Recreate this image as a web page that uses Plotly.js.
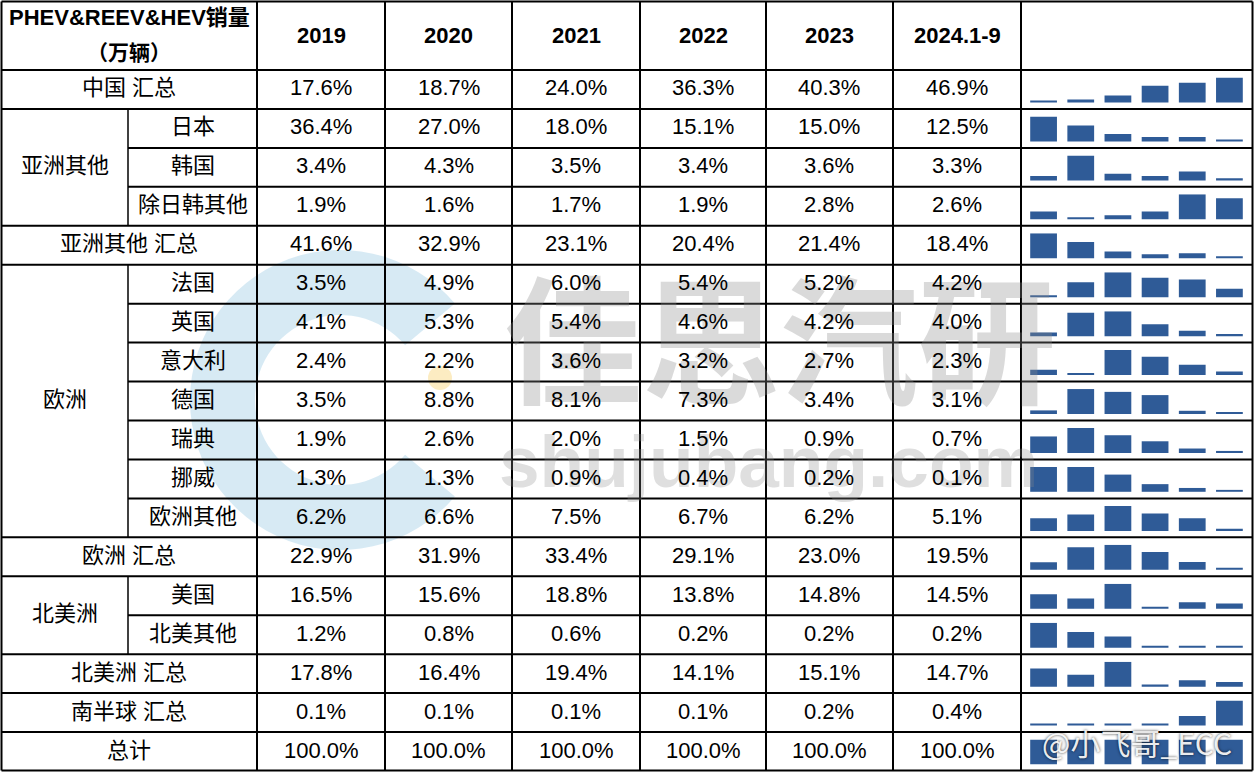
<!DOCTYPE html>
<html><head><meta charset="utf-8">
<script src="https://cdn.plot.ly/plotly-3.0.1.min.js"></script>
<style>html,body{margin:0;padding:0;background:#fff;}#chart{width:1256px;height:774px;}</style>
</head><body><div id="chart"></div>
<script>
// ---------------- data ----------------
const years = ['2019','2020','2021','2022','2023','2024.1-9'];
const rowNames = ['中国 汇总','日本','韩国','除日韩其他','亚洲其他 汇总','法国','英国','意大利','德国','瑞典','挪威','欧洲其他','欧洲 汇总','美国','北美其他','北美洲 汇总','南半球 汇总','总计'];
const share2019 = [17.6,36.4,3.4,1.9,41.6,3.5,4.1,2.4,3.5,1.9,1.3,6.2,22.9,16.5,1.2,17.8,0.1,100.0];
const share2020 = [18.7,27.0,4.3,1.6,32.9,4.9,5.3,2.2,8.8,2.6,1.3,6.6,31.9,15.6,0.8,16.4,0.1,100.0];
const share2021 = [24.0,18.0,3.5,1.7,23.1,6.0,5.4,3.6,8.1,2.0,0.9,7.5,33.4,18.8,0.6,19.4,0.1,100.0];
const share2022 = [36.3,15.1,3.4,1.9,20.4,5.4,4.6,3.2,7.3,1.5,0.4,6.7,29.1,13.8,0.2,14.1,0.1,100.0];
const share2023 = [40.3,15.0,3.6,2.8,21.4,5.2,4.2,2.7,3.4,0.9,0.2,6.2,23.0,14.8,0.2,15.1,0.2,100.0];
const share2024 = [46.9,12.5,3.3,2.6,18.4,4.2,4.0,2.3,3.1,0.7,0.1,5.1,19.5,14.5,0.2,14.7,0.4,100.0];
const groupNames = ['亚洲其他','欧洲','北美洲'];
const groupFirst = [1,5,13];
const groupLast = [3,11,14];
const headerTitle = 'PHEV&REEV&HEV销量';
const headerUnit = '（万辆）';
const watermarkCN = '佳思汽研';
const watermarkURL = 'shujubang.com';
const watermarkWeibo = '@小飞哥_ECC';

// ---------------- geometry ----------------
const W = 1256, H = 774;
const px = x => x / W;
const py = y => 1 - y / H;
const colX = [1.5,128,257,385,512,640,766,893,1021,1252.5];
const headTop = 1.5, headBot = 70, tableBot = 770.5;
const rowH = (771 - 70) / rowNames.length;
const rowTop = i => headBot + i * rowH;
const series = [share2019, share2020, share2021, share2022, share2023, share2024];

const FONT = 'Liberation Sans, Arial, "Noto Sans CJK SC", sans-serif';
const LINE = '#000';

const shapes = [];
const annotations = [];

function hline(y, x0, x1, w) {
  shapes.push({type:'line', xref:'paper', yref:'paper', x0:px(x0), x1:px(x1), y0:py(y), y1:py(y), line:{color:LINE, width:w||2}, layer:'above'});
}
function vline(x, y0, y1, w) {
  shapes.push({type:'line', xref:'paper', yref:'paper', x0:px(x), x1:px(x), y0:py(y0), y1:py(y1), line:{color:LINE, width:w||2}, layer:'above'});
}

// watermark: blue "C" ring and yellow dot
function ringPath(cx, cy, R, r, a0, a1) {
  const pts = [];
  const n = 60;
  for (let k = 0; k <= n; k++) {
    const a = (a0 + (a1 - a0) * k / n) * Math.PI / 180;
    pts.push([px(cx + R * Math.cos(a)), py(cy - R * Math.sin(a))]);
  }
  for (let k = n; k >= 0; k--) {
    const a = (a0 + (a1 - a0) * k / n) * Math.PI / 180;
    pts.push([px(cx + r * Math.cos(a)), py(cy - r * Math.sin(a))]);
  }
  return 'M' + pts.map(p => p[0].toFixed(5) + ',' + p[1].toFixed(5)).join('L') + 'Z';
}
shapes.push({type:'path', xref:'paper', yref:'paper', path: ringPath(340, 400, 150, 85, 40, 320),
  fillcolor:'rgba(110,180,215,0.28)', line:{width:0}, layer:'below'});
shapes.push({type:'circle', xref:'paper', yref:'paper', x0:px(428), x1:px(452), y0:py(366), y1:py(390),
  fillcolor:'rgba(245,200,80,0.35)', line:{width:0}, layer:'below'});

annotations.push({xref:'paper', yref:'paper', x:px(780), y:py(333), text:watermarkCN, showarrow:false,
  xanchor:'center', yanchor:'middle', font:{family:'"Noto Sans CJK SC", sans-serif', size:138, color:'rgba(140,140,140,0.32)', weight:700}});
annotations.push({xref:'paper', yref:'paper', x:px(768), y:py(462), text:watermarkURL, showarrow:false,
  xanchor:'center', yanchor:'middle', font:{family:'Liberation Sans, Arial, sans-serif', size:73, color:'rgba(140,140,140,0.28)', weight:700}});

// grid lines
hline(headTop, colX[0], colX[9]);
hline(tableBot, colX[0], colX[9]);
vline(colX[0], headTop, tableBot);
vline(colX[9], headTop, tableBot);
hline(headBot, colX[0], colX[9]);
for (let i = 1; i < rowNames.length; i++) {
  let inner = false;
  for (let g = 0; g < groupNames.length; g++) {
    if (i > groupFirst[g] && i <= groupLast[g]) inner = true;
  }
  hline(rowTop(i), inner ? colX[1] : colX[0], colX[9]);
}
for (let c = 2; c <= 8; c++) vline(colX[c], headTop, tableBot);
for (let g = 0; g < groupNames.length; g++) {
  vline(colX[1], rowTop(groupFirst[g]), rowTop(groupLast[g] + 1), 1.5);
}

// text helpers
function label(x, y, text, size, bold) {
  annotations.push({xref:'paper', yref:'paper', x:px(x), y:py(y), text:text, showarrow:false,
    xanchor:'center', yanchor:'middle',
    font:{family:FONT, size:size, color:'#000', weight: bold ? 700 : 400}});
}

// header
label((colX[0] + colX[2]) / 2, 17, headerTitle, 22, true);
label((colX[0] + colX[2]) / 2, 52, headerUnit, 21, true);
years.forEach((yr, c) => label((colX[c + 2] + colX[c + 3]) / 2, 35, yr, 22, true));

// row labels
const inGroup = rowNames.map(() => -1);
for (let g = 0; g < groupNames.length; g++) {
  for (let i = groupFirst[g]; i <= groupLast[g]; i++) inGroup[i] = g;
  label((colX[0] + colX[1]) / 2, (rowTop(groupFirst[g]) + rowTop(groupLast[g] + 1)) / 2 - 1.5, groupNames[g], 22, false);
}
rowNames.forEach((name, i) => {
  const yc = rowTop(i) + rowH / 2 - 1.5;
  if (inGroup[i] >= 0) label((colX[1] + colX[2]) / 2, yc, name, 22, false);
  else label((colX[0] + colX[2]) / 2, yc, name, 22, false);
  series.forEach((s, c) => label((colX[c + 2] + colX[c + 3]) / 2, yc, s[i].toFixed(1) + '%', 22, false));
});

// weibo watermark
annotations.push({xref:'paper', yref:'paper', x:px(1137), y:py(742), text:watermarkWeibo, showarrow:false,
  xanchor:'center', yanchor:'middle',
  font:{family:'"Noto Sans CJK SC", sans-serif', size:30, color:'rgba(255,255,255,0.92)', shadow:'0px 0px 3px rgba(0,0,0,0.85)'}});

// sparklines
const traces = [];
const layout = {
  width: W, height: H, margin:{l:0, r:0, t:0, b:0},
  paper_bgcolor:'#fff', plot_bgcolor:'rgba(0,0,0,0)',
  showlegend:false, bargap:0.28,
  shapes: shapes, annotations: annotations
};
rowNames.forEach((name, i) => {
  const vals = series.map(s => s[i]);
  const mn = Math.min(...vals), mx = Math.max(...vals);
  const range = (mx - mn) < 1e-9 ? [0, mx] : [mn - 0.09 * (mx - mn), mx];
  const k = i === 0 ? '' : String(i + 1);
  traces.push({type:'bar', x: years, y: vals, xaxis:'x' + k, yaxis:'y' + k,
    marker:{color:'#2f5b97', line:{width:0}}, hoverinfo:'skip', showlegend:false});
  const top = rowTop(i);
  layout['xaxis' + k] = {domain:[px(1025), px(1248)], anchor:'y' + k, type:'category', visible:false, fixedrange:true};
  layout['yaxis' + k] = {domain:[py(top + 32.5), py(top + 7.5)], anchor:'x' + k, range: range, visible:false, fixedrange:true};
});

Plotly.newPlot('chart', traces, layout, {staticPlot:true, displayModeBar:false});
</script>
</body></html>
